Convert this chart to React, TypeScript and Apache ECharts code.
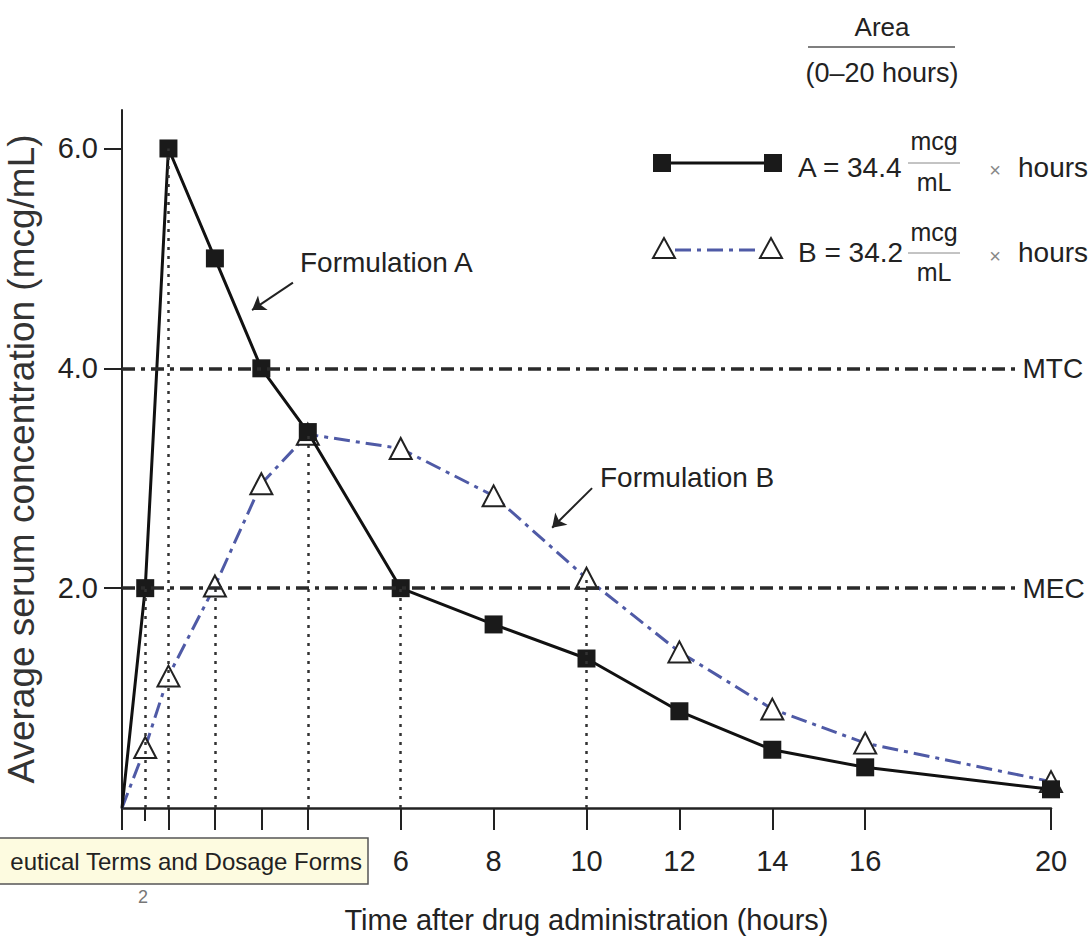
import React, { useEffect, useRef } from "react";
import * as echarts from "echarts";

// ---- data ----
const times = [0, 0.5, 1, 2, 3, 4, 6, 8, 10, 12, 14, 16, 20];
const concA = [0, 2.0, 6.0, 5.0, 4.0, 3.42, 2.0, 1.67, 1.36, 0.88, 0.53, 0.37, 0.17];
const concB = [0, 0.55, 1.2, 2.02, 2.95, 3.4, 3.27, 2.84, 2.09, 1.42, 0.9, 0.59, 0.24];
const yTickValues = [2, 4, 6];
const xTickValues = [0, 1, 2, 3, 4, 6, 8, 10, 12, 14, 16, 20];
const xShortTickValues = [0.5];
const xLabelValues = [6, 8, 10, 12, 14, 16, 20];
const limitNames = ["MTC", "MEC"];
const limitValues = [4, 2];
const limitEnd = 19.3;
const dropTimes = [0.5, 1, 2, 4, 6, 10];
const dropSeries = ["A", "A", "B", "A", "A", "B"];
const areaA = "34.4";
const areaB = "34.2";

const FONT = '"Liberation Sans", Arial, Helvetica, sans-serif';
const INK = "#222";
const BLUE = "#4f5aa6";

function valueAt(series: string, t: number) {
  const arr = series === "A" ? concA : concB;
  return arr[times.indexOf(t)];
}

export default function App() {
  const ref = useRef<HTMLDivElement>(null);
  useEffect(() => {
    if (!ref.current) return;
    const chart = echarts.init(ref.current, null, { renderer: "svg" });

    const dataA = times.map((t, i) =>
      i === 0 ? { value: [t, concA[i]], symbol: "none" } : { value: [t, concA[i]] }
    );
    const dataB = times.map((t, i) =>
      i === 0 ? { value: [t, concB[i]], symbol: "none" } : { value: [t, concB[i]] }
    );

    const dropLineData = dropTimes.map((t, i) => [
      { coord: [t, 0] },
      { coord: [t, valueAt(dropSeries[i], t)] },
    ]);

    const limitLineData = limitValues.map((v, i) => [
      { coord: [0, v], name: limitNames[i] },
      { coord: [limitEnd, v] },
    ]);

    const txt = (text: string, x: number, y: number, size: number, align = "left", color = INK, z = 100) => ({
      type: "text",
      x,
      y,
      z,
      style: {
        text,
        fontSize: size,
        fontFamily: FONT,
        fill: color,
        align,
        verticalAlign: "middle",
      },
    });

    const option: any = {
      animation: false,
      backgroundColor: "#ffffff",
      grid: { left: 122, right: 40, top: 110, bottom: 141, outerBoundsMode: "none" },
      xAxis: [
        {
          type: "value",
          min: 0,
          max: 20,
          name: "Time after drug administration (hours)",
          nameLocation: "middle",
          nameGap: 97,
          nameMoveOverlap: false,
          nameTextStyle: { fontSize: 29, fontFamily: FONT, color: INK },
          axisLine: { show: true, onZero: false, lineStyle: { color: INK, width: 2.5 } },
          axisTick: { show: true, customValues: xTickValues, length: 22, lineStyle: { color: INK, width: 2 } },
          axisLabel: {
            customValues: xLabelValues,
            margin: 38,
            fontSize: 29,
            fontFamily: FONT,
            color: INK,
          },
          splitLine: { show: false },
        },
        {
          type: "value",
          min: 0,
          max: 20,
          position: "bottom",
          axisLine: { show: false },
          axisTick: { show: true, customValues: xShortTickValues, length: 13, lineStyle: { color: INK, width: 2 } },
          axisLabel: { show: false },
          splitLine: { show: false },
        },
      ],
      yAxis: {
        type: "value",
        min: 0,
        max: 6.35,
        name: "Average serum concentration (mcg/mL)",
        nameLocation: "middle",
        nameGap: 82,
        nameMoveOverlap: false,
        nameRotate: 90,
        nameTextStyle: { fontSize: 37, fontFamily: FONT, color: "#333" },
        axisLine: { show: true, onZero: false, lineStyle: { color: INK, width: 2 } },
        axisTick: { show: true, customValues: yTickValues, length: 18, lineStyle: { color: INK, width: 2 } },
        axisLabel: {
          customValues: yTickValues,
          formatter: (v: number) => v.toFixed(1),
          margin: 24,
          fontSize: 29,
          fontFamily: FONT,
          color: INK,
        },
        splitLine: { show: false },
      },
      series: [
        {
          name: "guides",
          type: "line",
          data: [],
          z: 1,
          silent: true,
          markLine: {
            silent: true,
            symbol: ["none", "none"],
            animation: false,
            data: [
              ...dropLineData.map((d) => [
                { ...d[0], lineStyle: { type: [3, 6], width: 2.5, color: "#333" }, label: { show: false } },
                d[1],
              ]),
              ...limitLineData.map((d) => [
                {
                  ...d[0],
                  lineStyle: { type: [13, 6, 4, 6], width: 3.5, color: "#2a2a2a" },
                  label: {
                    show: true,
                    position: "end",
                    formatter: "{b}",
                    distance: 4,
                    fontSize: 28,
                    fontFamily: FONT,
                    color: INK,
                  },
                },
                d[1],
              ]),
            ],
          },
        },
        {
          name: "Formulation B",
          type: "line",
          data: dataB,
          z: 3,
          symbol: "triangle",
          symbolSize: [22, 21],
          showAllSymbol: true,
          lineStyle: { color: BLUE, width: 3, type: [16, 6, 4, 6] },
          itemStyle: { color: "#ffffff", borderColor: INK, borderWidth: 2 },
        },
        {
          name: "Formulation A",
          type: "line",
          data: dataA,
          z: 4,
          symbol: "rect",
          symbolSize: 18,
          showAllSymbol: true,
          lineStyle: { color: "#111", width: 3 },
          itemStyle: { color: "#1a1a1a", borderColor: "#1a1a1a", borderWidth: 0 },
        },
        {
          name: "arrows",
          type: "line",
          data: [],
          z: 5,
          silent: true,
          markLine: {
            silent: true,
            symbol: ["none", "arrow"],
            symbolSize: 13,
            label: { show: false },
            lineStyle: { type: "solid", width: 2, color: "#222" },
            data: [
              [{ coord: [3.68, 4.78] }, { coord: [2.8, 4.53] }],
              [{ coord: [10.12, 2.91] }, { coord: [9.26, 2.55] }],
            ],
          },
        },
      ],
      graphic: [
        // annotations
        txt("Formulation A", 300, 262, 28),
        txt("Formulation B", 600, 477, 28),
        // legend header
        txt("Area", 882, 27, 26, "center"),
        { type: "line", z: 100, shape: { x1: 808, y1: 47, x2: 955, y2: 47 }, style: { stroke: "#555", lineWidth: 1.5 } },
        txt("(0\u201320 hours)", 882, 73, 27, "center"),
        // legend row A
        { type: "line", z: 100, shape: { x1: 662, y1: 163, x2: 773, y2: 163 }, style: { stroke: "#111", lineWidth: 3 } },
        { type: "rect", z: 101, shape: { x: 653, y: 154, width: 18, height: 18 }, style: { fill: "#1a1a1a" } },
        { type: "rect", z: 101, shape: { x: 764, y: 154, width: 18, height: 18 }, style: { fill: "#1a1a1a" } },
        txt("A = " + areaA, 798, 167, 28),
        txt("mcg", 934, 141, 25, "center"),
        { type: "line", z: 100, shape: { x1: 908, y1: 163, x2: 960, y2: 163 }, style: { stroke: "#888", lineWidth: 1 } },
        txt("mL", 934, 182, 25, "center"),
        txt("\u00d7", 995, 170, 20, "center", "#888"),
        txt("hours", 1018, 167, 28),
        // legend row B
        { type: "line", z: 100, shape: { x1: 675, y1: 250, x2: 760, y2: 250 }, style: { stroke: BLUE, lineWidth: 3, lineDash: [16, 6, 4, 6] } },
        { type: "polygon", z: 101, shape: { points: [[664, 238], [653, 258], [675, 258]] }, style: { fill: "#fff", stroke: INK, lineWidth: 2 } },
        { type: "polygon", z: 101, shape: { points: [[771, 238], [760, 258], [782, 258]] }, style: { fill: "#fff", stroke: INK, lineWidth: 2 } },
        txt("B = " + areaB, 798, 252, 28),
        txt("mcg", 934, 232, 25, "center"),
        { type: "line", z: 100, shape: { x1: 908, y1: 253, x2: 960, y2: 253 }, style: { stroke: "#888", lineWidth: 1 } },
        txt("mL", 934, 272, 25, "center"),
        txt("\u00d7", 995, 256, 20, "center", "#888"),
        txt("hours", 1018, 252, 28),
        // tooltip overlay
        { type: "rect", z: 110, shape: { x: -2, y: 838, width: 370, height: 46 }, style: { fill: "#fdfbe0", stroke: "#555", lineWidth: 1.5 } },
        txt("eutical Terms and Dosage Forms", 362, 861, 24, "right", "#222", 111),
        txt("2", 143, 897, 18, "center", "#777", 111),
      ],
    };

    chart.setOption(option);
    return () => chart.dispose();
  }, []);

  return (
    <div
      ref={ref}
      style={{ position: "absolute", left: 0, top: 0, width: 1091, height: 949, background: "#fff" }}
    />
  );
}
